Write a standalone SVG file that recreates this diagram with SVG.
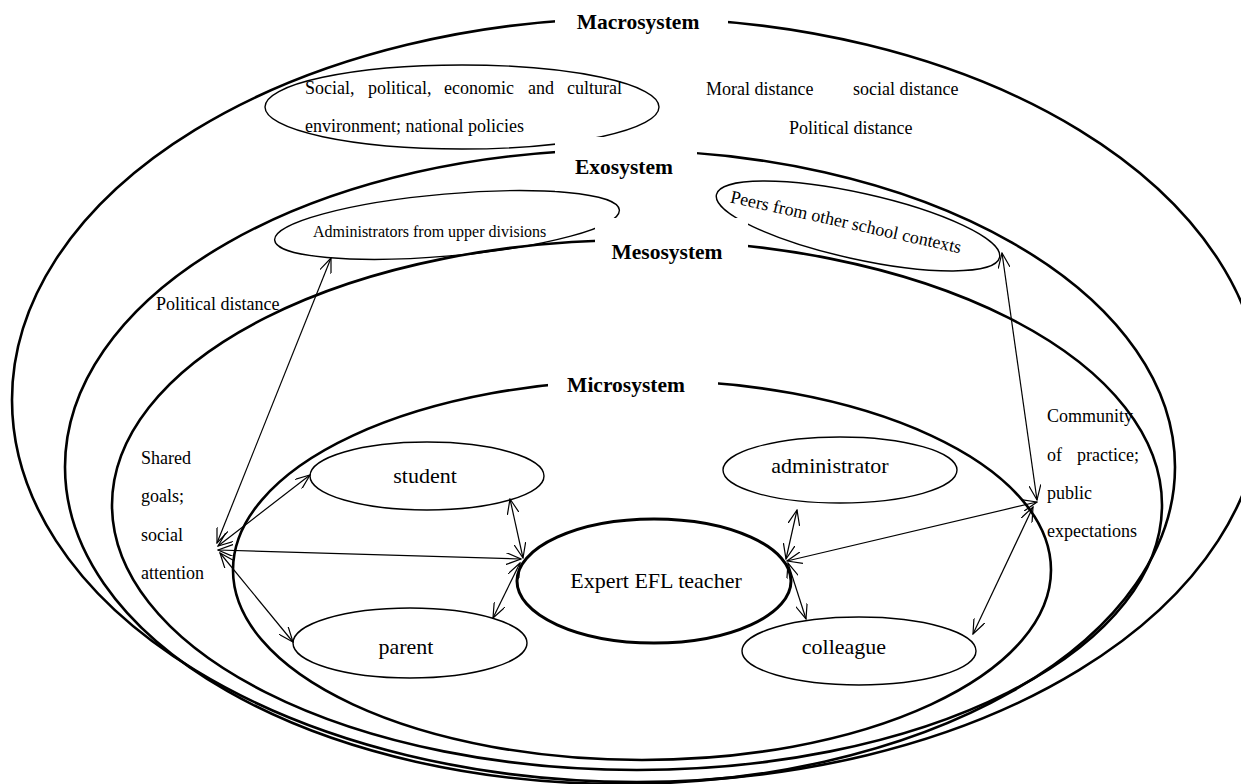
<svg xmlns="http://www.w3.org/2000/svg" width="1241" height="784" viewBox="0 0 1241 784">
<style>
.sys{fill:none;stroke:#000;stroke-width:2.6}
.node{fill:none;stroke:#000;stroke-width:1.4}
.core{fill:none;stroke:#000;stroke-width:3}
.lbl{font-family:"Liberation Serif","Times New Roman",serif;font-size:21.5px;font-weight:bold;fill:#000;text-anchor:middle}
.t{font-family:"Liberation Serif","Times New Roman",serif;font-size:18px;fill:#000}
.n{font-family:"Liberation Serif","Times New Roman",serif;font-size:22px;fill:#000;text-anchor:middle}
.cn{fill:none;stroke:#000;stroke-width:1.2;marker-start:url(#ah);marker-end:url(#ah)}
.mask{fill:#fff;stroke:none}
</style>
<defs>
<marker id="ah" viewBox="0 0 16 12" refX="15" refY="6" markerWidth="16" markerHeight="12" markerUnits="userSpaceOnUse" orient="auto-start-reverse">
<path d="M0,0 L15,6 L0,12" fill="none" stroke="#000" stroke-width="1.2"/>
</marker>
</defs>
<rect width="1241" height="784" fill="#fff"/>

<g id="macrosystem">
<ellipse class="sys" cx="637" cy="400" rx="625" ry="382"/>
<ellipse class="node" cx="462" cy="107" rx="197" ry="42"/>
<text class="t" y="94"><tspan x="305">Social,</tspan><tspan x="368">political,</tspan><tspan x="444">economic</tspan><tspan x="528">and</tspan><tspan x="567">cultural</tspan></text>
<text class="t" x="305" y="132">environment; national policies</text>
<text class="t" x="706" y="95">Moral distance</text>
<text class="t" x="853" y="95">social distance</text>
<text class="t" x="789" y="134">Political distance</text>
</g>

<g id="exosystem">
<ellipse class="sys" cx="620" cy="467" rx="555" ry="317"/>
<ellipse class="node" cx="447" cy="225" rx="173" ry="31" transform="rotate(-5 447 225)"/>
<text class="t" x="313" y="237" style="font-size:16px">Administrators from upper divisions</text>
<ellipse class="node" cx="858" cy="226" rx="145" ry="33" transform="rotate(12.5 858 226)"/>
<text class="t" x="846" y="228" text-anchor="middle" transform="rotate(12.5 846 222)">Peers from other school contexts</text>
</g>

<g id="mesosystem">
<ellipse class="sys" cx="637" cy="505" rx="525" ry="265"/>
<text class="t" x="156" y="310">Political distance</text>
<text class="t" x="1047" y="422">Community</text>
<text class="t" y="461"><tspan x="1047">of</tspan><tspan x="1077">practice;</tspan></text>
<text class="t" x="1047" y="499">public</text>
<text class="t" x="1047" y="537">expectations</text>
</g>

<g id="microsystem">
<ellipse class="sys" cx="642" cy="570" rx="409" ry="190"/>
<text class="t" x="141" y="464">Shared</text>
<text class="t" x="141" y="502">goals;</text>
<text class="t" x="141" y="541">social</text>
<text class="t" x="141" y="579">attention</text>
</g>

<g id="labels">
<rect class="mask" x="555" y="0" width="173" height="40"/>
<text class="lbl" x="638" y="29">Macrosystem</text>
<rect class="mask" x="555" y="137" width="142" height="54"/>
<text class="lbl" x="624" y="174">Exosystem</text>
<rect class="mask" x="595" y="218" width="153" height="48"/>
<text class="lbl" x="667" y="259">Mesosystem</text>
<rect class="mask" x="548" y="368" width="170" height="32"/>
<text class="lbl" x="626" y="392">Microsystem</text>
</g>

<g id="student"><ellipse class="node" cx="427" cy="476" rx="117" ry="34"/><text class="n" x="425" y="483">student</text></g>
<g id="administrator"><ellipse class="node" cx="840" cy="470" rx="117" ry="33"/><text class="n" x="830" y="473">administrator</text></g>
<g id="expert"><ellipse class="core" cx="654" cy="581" rx="137" ry="62"/><text class="n" x="656" y="588">Expert EFL teacher</text></g>
<g id="parent"><ellipse class="node" cx="410" cy="643" rx="117" ry="35"/><text class="n" x="406" y="654">parent</text></g>
<g id="colleague"><ellipse class="node" cx="859" cy="651" rx="117" ry="34"/><text class="n" x="844" y="654">colleague</text></g>

<g id="connectors">
<line class="cn" x1="331" y1="258" x2="217" y2="543"/>
<line class="cn" x1="218" y1="546" x2="310" y2="475"/>
<line class="cn" x1="218" y1="550" x2="521" y2="559"/>
<line class="cn" x1="220" y1="553" x2="293" y2="642"/>
<line class="cn" x1="510" y1="499" x2="523" y2="558"/>
<line class="cn" x1="520" y1="563" x2="493" y2="618"/>
<line class="cn" x1="797" y1="510" x2="786" y2="559"/>
<line class="cn" x1="787" y1="561" x2="1037" y2="502"/>
<line class="cn" x1="788" y1="563" x2="806" y2="619"/>
<line class="cn" x1="1002" y1="253" x2="1037" y2="500"/>
<line class="cn" x1="1033" y1="507" x2="973" y2="634"/>
</g>
</svg>
